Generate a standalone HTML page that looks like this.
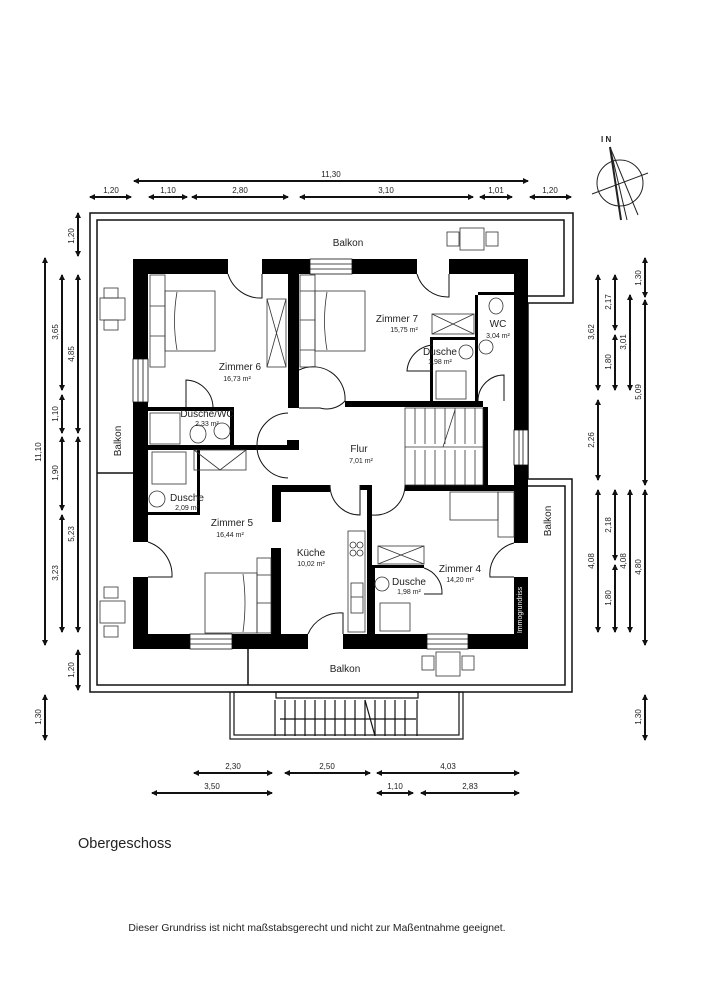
<!DOCTYPE html>
<html><head><meta charset="utf-8"><style>
html,body{margin:0;padding:0;background:#fff}
svg{display:block}
text{font-family:"Liberation Sans",Arial,sans-serif;fill:#222}
</style></head><body>
<svg width="707" height="1000" viewBox="0 0 707 1000" xmlns="http://www.w3.org/2000/svg">
<defs>
<marker id="a" markerWidth="6" markerHeight="6" refX="5" refY="3" orient="auto-start-reverse" markerUnits="userSpaceOnUse"><path d="M0,0 L6,3 L0,6 z" fill="#111"/></marker>
</defs>
<g stroke="#111" stroke-width="2" marker-start="url(#a)" marker-end="url(#a)" fill="none">
<line x1="134" y1="181" x2="528" y2="181"/>
<line x1="90" y1="197" x2="131" y2="197"/>
<line x1="149" y1="197" x2="187" y2="197"/>
<line x1="192" y1="197" x2="288" y2="197"/>
<line x1="300" y1="197" x2="473" y2="197"/>
<line x1="480" y1="197" x2="512" y2="197"/>
<line x1="530" y1="197" x2="571" y2="197"/>
<line x1="45" y1="258" x2="45" y2="645"/>
<line x1="62" y1="275" x2="62" y2="390"/>
<line x1="62" y1="395" x2="62" y2="433"/>
<line x1="62" y1="437" x2="62" y2="510"/>
<line x1="62" y1="515" x2="62" y2="632"/>
<line x1="78" y1="213" x2="78" y2="256"/>
<line x1="78" y1="275" x2="78" y2="433"/>
<line x1="78" y1="437" x2="78" y2="632"/>
<line x1="78" y1="650" x2="78" y2="690"/>
<line x1="45" y1="695" x2="45" y2="740"/>
<line x1="598" y1="275" x2="598" y2="390"/>
<line x1="598" y1="400" x2="598" y2="480"/>
<line x1="598" y1="490" x2="598" y2="632"/>
<line x1="615" y1="275" x2="615" y2="330"/>
<line x1="615" y1="335" x2="615" y2="390"/>
<line x1="615" y1="490" x2="615" y2="560"/>
<line x1="615" y1="565" x2="615" y2="632"/>
<line x1="630" y1="295" x2="630" y2="390"/>
<line x1="630" y1="490" x2="630" y2="632"/>
<line x1="645" y1="258" x2="645" y2="297"/>
<line x1="645" y1="300" x2="645" y2="485"/>
<line x1="645" y1="490" x2="645" y2="645"/>
<line x1="645" y1="695" x2="645" y2="740"/>
<line x1="194" y1="773" x2="272" y2="773"/>
<line x1="285" y1="773" x2="370" y2="773"/>
<line x1="377" y1="773" x2="519" y2="773"/>
<line x1="152" y1="793" x2="272" y2="793"/>
<line x1="377" y1="793" x2="413" y2="793"/>
<line x1="421" y1="793" x2="519" y2="793"/>
</g>
<g font-size="8" text-anchor="middle">
<text x="331" y="177">11,30</text>
<text x="111" y="193">1,20</text>
<text x="168" y="193">1,10</text>
<text x="240" y="193">2,80</text>
<text x="386" y="193">3,10</text>
<text x="496" y="193">1,01</text>
<text x="550" y="193">1,20</text>
<text x="233" y="769">2,30</text>
<text x="327" y="769">2,50</text>
<text x="448" y="769">4,03</text>
<text x="212" y="789">3,50</text>
<text x="395" y="789">1,10</text>
<text x="470" y="789">2,83</text>
<text transform="translate(41,452) rotate(-90)">11,10</text>
<text transform="translate(58,332) rotate(-90)">3,65</text>
<text transform="translate(58,414) rotate(-90)">1,10</text>
<text transform="translate(58,473) rotate(-90)">1,90</text>
<text transform="translate(58,573) rotate(-90)">3,23</text>
<text transform="translate(74,236) rotate(-90)">1,20</text>
<text transform="translate(74,354) rotate(-90)">4,85</text>
<text transform="translate(74,534) rotate(-90)">5,23</text>
<text transform="translate(74,670) rotate(-90)">1,20</text>
<text transform="translate(41,717) rotate(-90)">1,30</text>
<text transform="translate(594,332) rotate(-90)">3,62</text>
<text transform="translate(594,440) rotate(-90)">2,26</text>
<text transform="translate(594,561) rotate(-90)">4,08</text>
<text transform="translate(611,302) rotate(-90)">2,17</text>
<text transform="translate(611,362) rotate(-90)">1,80</text>
<text transform="translate(611,525) rotate(-90)">2,18</text>
<text transform="translate(611,598) rotate(-90)">1,80</text>
<text transform="translate(626,342) rotate(-90)">3,01</text>
<text transform="translate(626,561) rotate(-90)">4,08</text>
<text transform="translate(641,278) rotate(-90)">1,30</text>
<text transform="translate(641,392) rotate(-90)">5,09</text>
<text transform="translate(641,567) rotate(-90)">4,80</text>
<text transform="translate(641,717) rotate(-90)">1,30</text>
</g>
<g stroke="#222" fill="none" stroke-width="1">
<circle cx="620" cy="183" r="23"/>
<line x1="592" y1="194" x2="648" y2="173"/>
<line x1="610" y1="147" x2="627" y2="220"/>
<line x1="610" y1="147" x2="621" y2="220" stroke-width="2"/>
<line x1="610" y1="147" x2="638" y2="215"/>
</g>
<text x="601" y="142" font-size="8" font-weight="bold">I N</text>
<g fill="none" stroke="#111" stroke-width="1.5">
<path d="M90,213 H573 V303 H528 V479 H572 V692 H90 Z"/>
<path d="M97,220 H564 V296 H521 V486 H565 V685 H97 Z"/>
<line x1="97" y1="473" x2="133" y2="473"/>
<line x1="248" y1="649" x2="248" y2="685"/>
</g>
<g fill="none" stroke="#111" stroke-width="1.2">
<rect x="230" y="692" width="233" height="47"/>
<rect x="234" y="692" width="225" height="43"/>
<rect x="276" y="692" width="142" height="6"/>
<path d="M275,700 V736 M285,700 V736 M295,700 V736 M305,700 V736 M315,700 V736 M325,700 V736 M335,700 V736 M345,700 V736 M355,700 V736 M365,700 V736 M375,700 V736 M385,700 V736 M395,700 V736 M405,700 V736 M417,700 V736"/>
<line x1="365" y1="700" x2="375" y2="736"/>
<line x1="280" y1="719" x2="416" y2="719"/>
</g>
<g fill="#000">
<rect x="133" y="259" width="95" height="15"/>
<rect x="262" y="259" width="48" height="15"/>
<rect x="352" y="259" width="65" height="15"/>
<rect x="449" y="259" width="79" height="15"/>
<rect x="133" y="259" width="15" height="100"/>
<rect x="133" y="402" width="15" height="140"/>
<rect x="133" y="577" width="15" height="72"/>
<rect x="514" y="259" width="14" height="171"/>
<rect x="514" y="465" width="14" height="78"/>
<rect x="514" y="577" width="14" height="72"/>
<rect x="133" y="634" width="57" height="15"/>
<rect x="232" y="634" width="76" height="15"/>
<rect x="343" y="634" width="84" height="15"/>
<rect x="468" y="634" width="60" height="15"/>
<rect x="288" y="274" width="11" height="134"/>
<rect x="345" y="401" width="138" height="6"/>
<rect x="475" y="295" width="3" height="106"/>
<rect x="478" y="292" width="36" height="3"/>
<rect x="430" y="337" width="45" height="3"/>
<rect x="430" y="337" width="3" height="64"/>
<rect x="146" y="407" width="87" height="4"/>
<rect x="230" y="407" width="4" height="40"/>
<rect x="146" y="445" width="153" height="5"/>
<rect x="287" y="440" width="12" height="10"/>
<rect x="197" y="450" width="3" height="65"/>
<rect x="146" y="512" width="54" height="3"/>
<rect x="272" y="485" width="58" height="7"/>
<rect x="272" y="485" width="9" height="37"/>
<rect x="360" y="485" width="12" height="5"/>
<rect x="405" y="485" width="110" height="6"/>
<rect x="367" y="490" width="5" height="144"/>
<rect x="271" y="548" width="10" height="86"/>
<rect x="372" y="565" width="52" height="3"/>
<rect x="372" y="565" width="3" height="70"/>
<rect x="483" y="407" width="5" height="78"/>
</g>
<g fill="#fff" stroke="#111" stroke-width="0.8">
<rect x="310" y="259" width="42" height="15"/><line x1="310" y1="264" x2="352" y2="264"/><line x1="310" y1="269" x2="352" y2="269"/>
<rect x="133" y="359" width="15" height="43"/><line x1="138" y1="359" x2="138" y2="402"/><line x1="143" y1="359" x2="143" y2="402"/>
<rect x="514" y="430" width="14" height="35"/><line x1="519" y1="430" x2="519" y2="465"/><line x1="523" y1="430" x2="523" y2="465"/>
<rect x="190" y="634" width="42" height="15"/><line x1="190" y1="639" x2="232" y2="639"/><line x1="190" y1="644" x2="232" y2="644"/>
<rect x="427" y="634" width="41" height="15"/><line x1="427" y1="639" x2="468" y2="639"/><line x1="427" y1="644" x2="468" y2="644"/>
</g>
<g fill="none" stroke="#111" stroke-width="1">
<path d="M228,274 A34,34 0 0 0 262,298 V274"/>
<path d="M417,274 A32,32 0 0 0 449,297 V274"/>
<path d="M299,408 H320 A25,25 0 0 0 345,401"/>
<path d="M299,370 A32,32 0 0 1 345,401"/>
<path d="M478,401 A26,26 0 0 1 504,375 V401"/>
<path d="M186,407 V380 A28,28 0 0 1 213,407"/>
<path d="M288,413 A32,32 0 0 0 257,445 A32,32 0 0 0 288,478"/>
<path d="M148,542 A35,35 0 0 1 172,577 H148"/>
<path d="M330,485 A30,30 0 0 0 360,515 V485"/>
<path d="M372,515 A30,30 0 0 0 405,485"/>
<path d="M308,634 A35,35 0 0 1 343,613 V634"/>
<path d="M514,543 A32,32 0 0 0 490,577 H514"/>
<path d="M424,568 A26,26 0 0 1 442,594 H424"/>
<path d="M433,345 A28,28 0 0 0 407,371 H433"/>
</g>
<g fill="none" stroke="#333" stroke-width="0.8">
<rect x="150" y="275" width="15" height="92"/><line x1="150" y1="306" x2="165" y2="306"/><line x1="150" y1="336" x2="165" y2="336"/>
<rect x="165" y="291" width="50" height="60"/><path d="M177,292 Q172,321 177,350"/>
<rect x="267" y="299" width="19" height="68"/><path d="M267,299 L286,367 M286,299 L267,367"/>
<rect x="300" y="275" width="15" height="92"/><line x1="300" y1="291" x2="315" y2="291"/><line x1="300" y1="320" x2="315" y2="320"/><line x1="300" y1="350" x2="315" y2="350"/>
<rect x="315" y="291" width="50" height="60"/><path d="M327,292 Q322,321 327,350"/>
<rect x="432" y="314" width="42" height="20"/><path d="M432,314 L474,334 M474,314 L432,334"/>
<rect x="436" y="371" width="30" height="28"/>
<ellipse cx="496" cy="306" rx="7" ry="8"/><circle cx="486" cy="347" r="7"/><circle cx="466" cy="352" r="7"/>
<rect x="150" y="413" width="30" height="31"/>
<ellipse cx="198" cy="434" rx="8" ry="9"/><circle cx="222" cy="431" r="8"/>
<rect x="152" y="452" width="34" height="32"/>
<rect x="194" y="450" width="52" height="20"/><path d="M194,450 L220,470 L246,450"/>
<circle cx="157" cy="499" r="8"/>
<rect x="205" y="573" width="52" height="60"/><rect x="257" y="558" width="14" height="75"/><line x1="257" y1="575" x2="271" y2="575"/><line x1="257" y1="603" x2="271" y2="603"/><path d="M243,574 Q247,603 243,632"/>
<rect x="348" y="531" width="17" height="101"/><circle cx="353" cy="545" r="3"/><circle cx="360" cy="545" r="3"/><circle cx="353" cy="553" r="3"/><circle cx="360" cy="553" r="3"/>
<rect x="351" y="583" width="12" height="30"/><line x1="351" y1="597" x2="363" y2="597"/>
<rect x="378" y="546" width="46" height="18"/><path d="M378,546 L424,564 M424,546 L378,564"/>
<circle cx="382" cy="584" r="7"/><rect x="380" y="603" width="30" height="28"/>
<rect x="450" y="492" width="48" height="28"/><rect x="498" y="492" width="16" height="45"/>
<rect x="405" y="408" width="78" height="77"/>
<path d="M415,408 V444 M425,408 V444 M435,408 V444 M445,408 V444 M455,408 V444 M465,408 V444 M475,408 V444 M415,450 V485 M425,450 V485 M435,450 V485 M445,450 V485 M455,450 V485 M465,450 V485 M475,450 V485"/>
<line x1="405" y1="447" x2="483" y2="447"/><line x1="455" y1="410" x2="443" y2="447"/>
<rect x="100" y="298" width="25" height="22"/><rect x="104" y="288" width="14" height="10"/><rect x="104" y="320" width="14" height="10"/>
<rect x="100" y="601" width="25" height="22"/><rect x="104" y="587" width="14" height="11"/><rect x="104" y="626" width="14" height="11"/>
<rect x="460" y="228" width="24" height="22"/><rect x="447" y="232" width="12" height="14"/><rect x="486" y="232" width="12" height="14"/>
<rect x="436" y="652" width="24" height="24"/><rect x="422" y="656" width="12" height="14"/><rect x="462" y="656" width="12" height="14"/>
</g>
<g text-anchor="middle">
<text x="348" y="246" font-size="10">Balkon</text>
<text x="240" y="370" font-size="10">Zimmer 6</text>
<text x="237" y="381" font-size="7">16,73 m²</text>
<text x="397" y="322" font-size="10">Zimmer 7</text>
<text x="404" y="332" font-size="7">15,75 m²</text>
<text x="498" y="327" font-size="10">WC</text>
<text x="498" y="338" font-size="7">3,04 m²</text>
<text x="440" y="355" font-size="10">Dusche</text>
<text x="440" y="364" font-size="7">1,98 m²</text>
<text x="207" y="417" font-size="10">Dusche/WC</text>
<text x="207" y="426" font-size="7">2,33 m²</text>
<text x="359" y="452" font-size="10">Flur</text>
<text x="361" y="463" font-size="7">7,01 m²</text>
<text x="187" y="501" font-size="10">Dusche</text>
<text x="187" y="510" font-size="7">2,09 m²</text>
<text x="232" y="526" font-size="10">Zimmer 5</text>
<text x="230" y="537" font-size="7">16,44 m²</text>
<text x="311" y="556" font-size="10">Küche</text>
<text x="311" y="566" font-size="7">10,02 m²</text>
<text x="460" y="572" font-size="10">Zimmer 4</text>
<text x="460" y="582" font-size="7">14,20 m²</text>
<text x="409" y="585" font-size="10">Dusche</text>
<text x="409" y="594" font-size="7">1,98 m²</text>
<text x="345" y="672" font-size="10">Balkon</text>
<text transform="translate(121,441) rotate(-90)" font-size="10">Balkon</text>
<text transform="translate(551,521) rotate(-90)" font-size="10">Balkon</text>
<text transform="translate(522,610) rotate(-90)" font-size="7" style="fill:#fff">Immogrundriss</text>
</g>
<text x="78" y="848" font-size="14.5">Obergeschoss</text>
<text x="317" y="931" font-size="10.4" text-anchor="middle">Dieser Grundriss ist nicht maßstabsgerecht und nicht zur Maßentnahme geeignet.</text>
</svg>
</body></html>
